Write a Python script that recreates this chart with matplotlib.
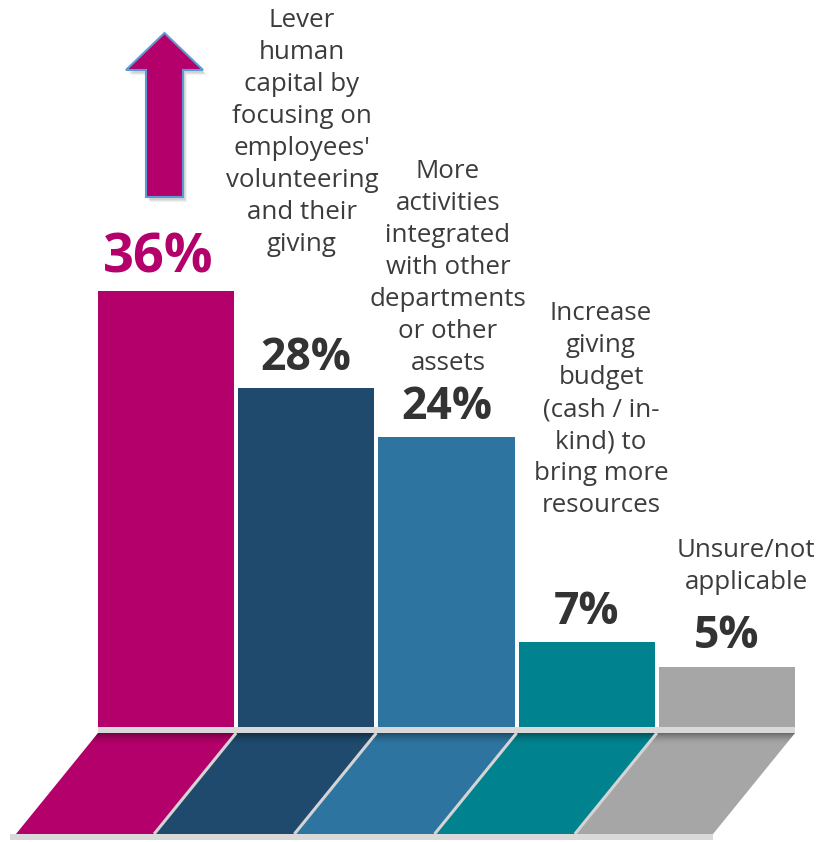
import matplotlib
matplotlib.use("Agg")
import matplotlib.pyplot as plt
import matplotlib.transforms as mtransforms
from matplotlib.patches import Polygon, Rectangle, FancyArrow

# survey answers, one bar each
values = [36, 28, 24, 7, 5]
value_labels = ["36%", "28%", "24%", "7%", "5%"]
answers = [
    None,
    "Lever\nhuman\ncapital by\nfocusing on\nemployees'\nvolunteering\nand their\ngiving",
    "More\nactivities\nintegrated\nwith other\ndepartments\nor other\nassets",
    "Increase\ngiving\nbudget\n(cash / in-\nkind) to\nbring more\nresources",
    "Unsure/not\napplicable",
]
colors = ["#B4006A", "#1F4A6D", "#2D75A0", "#00838F", "#A6A6A6"]

W, H = 822, 842
X0, XS = 166, 140.25     # pixel x of first bar centre, pixels per bar slot
Y0, YS = 727, 12.1       # pixel y of the baseline, pixels per percent


def px_x(p):
    return (p - X0) / XS


def px_y(p):
    return (Y0 - p) / YS


fig = plt.figure(figsize=(W / 100, H / 100), dpi=100)
ax = fig.add_axes([0, 0, 1, 1])
ax.set_xlim(px_x(0), px_x(W))
ax.set_ylim(px_y(H), px_y(0))
ax.axis("off")

x = list(range(len(values)))
ax.bar(x, values, width=0.97, color=colors, zorder=3)

# slanted floor under the bars
left, right = -0.485, len(values) - 1 + 0.485
ytop, ybot = px_y(Y0 + 6), px_y(Y0 + 107)
shift = 82 / XS
edges = [left] + [i + 0.5 for i in range(len(values) - 1)] + [right]
for i, c in enumerate(colors):
    a, b = edges[i], edges[i + 1]
    ax.add_patch(Polygon([(a, ytop), (b, ytop), (b - shift, ybot), (a - shift, ybot)],
                         closed=True, facecolor=c, edgecolor="none", zorder=2))

# shadow cast by the front strip
def edge_at(xtop, y):
    return xtop - shift * (ytop - y) / (ytop - ybot)

for k in range(12):
    y1 = ytop - k / YS
    y2 = ytop - (k + 1) / YS
    alpha = 0.35 * (1 - k / 12) ** 2
    ax.add_patch(Polygon([(edge_at(left, y1), y1), (edge_at(right, y1), y1),
                          (edge_at(right, y2), y2), (edge_at(left, y2), y2)],
                         closed=True, facecolor="black", alpha=alpha,
                         edgecolor="none", zorder=2.1))

for e in edges[1:-1]:
    ax.plot([e, e - shift], [ytop, ybot], color="#D4D4D4", lw=2.2,
            solid_capstyle="butt", zorder=2.2)

ax.add_patch(Rectangle((left, ytop), right - left, -ytop, facecolor="#D9D9D9",
                       edgecolor="none", zorder=2.3))
ax.add_patch(Rectangle((left - shift - 6 / XS, px_y(Y0 + 113)), right - left + 6 / XS,
                       6 / YS, facecolor="#D9D9D9", edgecolor="none", zorder=2.3))

# value labels
for i, (v, lab) in enumerate(zip(values, value_labels)):
    big = i == 0
    ax.annotate(lab, (i, v), xytext=(-8 if big else 0, 19 if big else 18),
                textcoords="offset pixels", ha="center", va="baseline",
                fontsize=39 if big else 32, fontweight="bold",
                family="Open Sans", color=colors[0] if big else "#333333", zorder=5)

# answer texts
trans = mtransforms.blended_transform_factory(ax.transData, ax.transAxes)
text_x = [None, 302, 448, 601, 746]
text_top = [None, 8, 159, 301, 538]
for ans, tx, tt in zip(answers, text_x, text_top):
    if ans is None:
        continue
    ax.text(px_x(tx), 1 - tt / H, ans, transform=trans, ha="center", va="top",
            multialignment="center", fontsize=18.6, family="Open Sans",
            color="#3C3C3C", linespacing=1.37, zorder=5)

# up arrow over the leading answer
ax_x = px_x(164.5)
ay0, ay1 = px_y(197), px_y(33)
arrow_kw = dict(width=37 / XS, head_width=77 / XS, head_length=37 / YS,
                length_includes_head=True)
for k, (ox, oy) in enumerate([(4, 5), (3, 4), (2, 3)]):
    ax.add_patch(FancyArrow(ax_x + ox / XS, ay0 - oy / YS, 0, ay1 - ay0,
                            facecolor="black", edgecolor="none",
                            alpha=0.06, zorder=3.5, **arrow_kw))
ax.add_patch(FancyArrow(ax_x, ay0, 0, ay1 - ay0, facecolor=colors[0],
                        edgecolor="#5B9BD5", linewidth=1.5, zorder=4, **arrow_kw))

fig.savefig("out.png", dpi=100)
